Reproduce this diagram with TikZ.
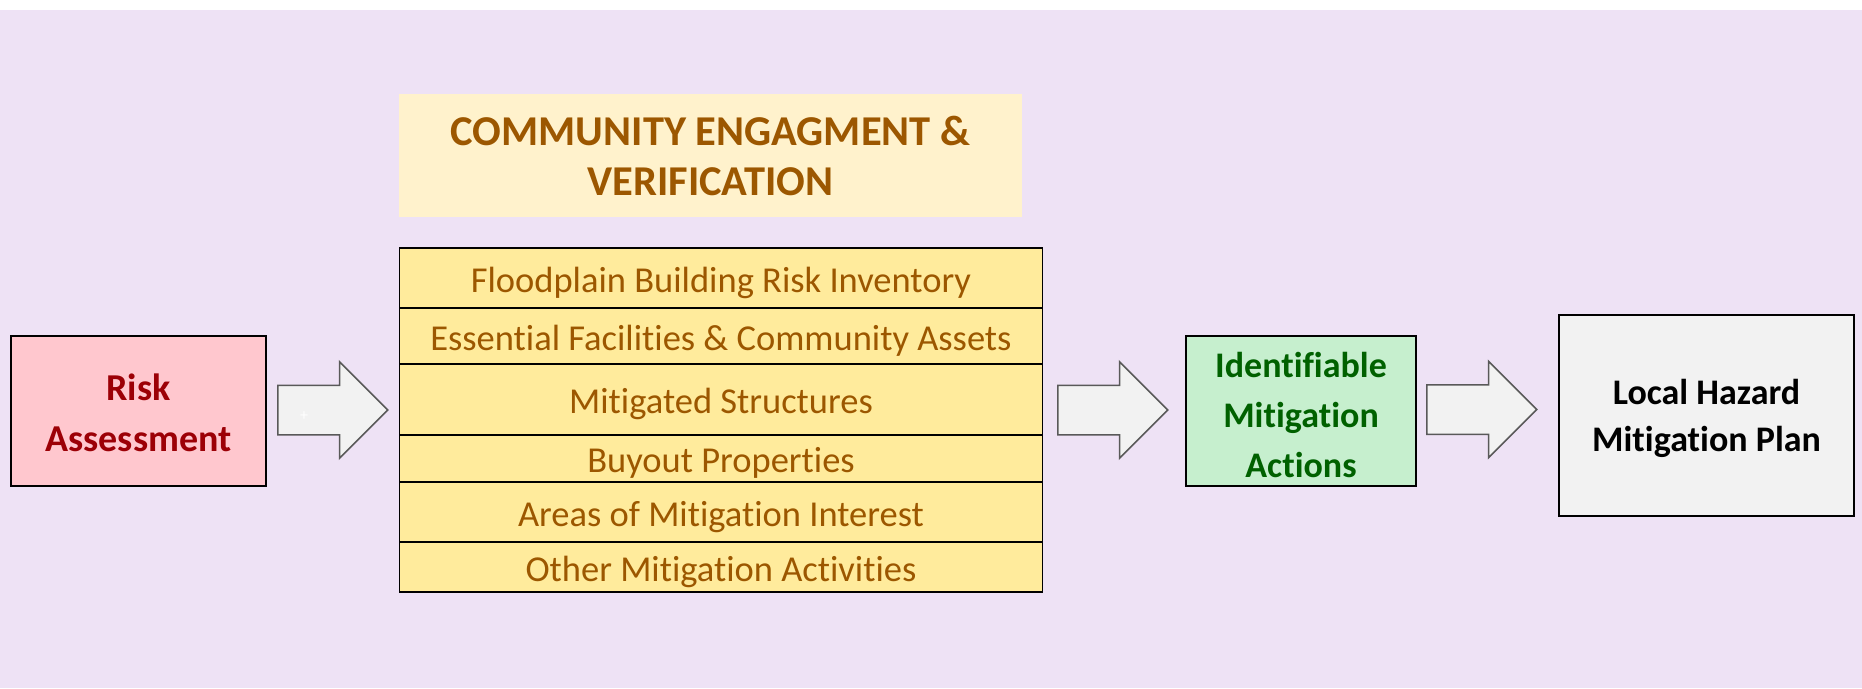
\documentclass[tikz,border=0pt]{standalone}
\usepackage{fontspec}
\setmainfont{Carlito}[Ligatures=NoCommon]
\usetikzlibrary{shapes.arrows}

\definecolor{lavender}{RGB}{238,226,245}
\definecolor{riskfill}{RGB}{255,199,206}
\definecolor{risktext}{RGB}{156,0,6}
\definecolor{goodfill}{RGB}{198,239,206}
\definecolor{goodtext}{RGB}{0,97,0}
\definecolor{neutralfill}{RGB}{255,235,156}
\definecolor{neutraltext}{RGB}{156,87,0}
\definecolor{headfill}{RGB}{255,242,204}
\definecolor{plainfill}{RGB}{242,242,242}
\definecolor{arrowedge}{RGB}{89,89,89}

\begin{document}
\begin{tikzpicture}[x=1pt,y=-1pt,
  box/.style={draw=black, line width=1.6pt, inner sep=0pt, align=center,
    font=\bfseries\fontsize{36}{50}\selectfont},
  rowbox/.style={draw=black, line width=1.4pt, fill=neutralfill, text=neutraltext,
    inner sep=0pt, minimum width=643, text height=31pt, text depth=3pt,
    font=\fontsize{36.5}{40}\selectfont},
  headbox/.style={fill=headfill, text=neutraltext, inner sep=0pt, align=center,
    minimum width=623, minimum height=123,
    font=\bfseries\fontsize{42.5}{50}\selectfont},
  blockarrow/.style={single arrow, draw=arrowedge, line width=1.5pt, fill=plainfill,
    inner sep=0pt, text height=24pt, text depth=24pt, text width=0pt,
    single arrow head extend=23.5pt, minimum height=110, minimum width=95, anchor=tail}
]
% page background
\fill[white] (0,0) rectangle (1862,688);
\fill[lavender] (0,10) rectangle (1862,688);
\useasboundingbox (0,0) rectangle (1862,688);

% starting box
\node[box, line width=2.4pt, fill=riskfill, text=risktext, minimum width=255, minimum height=150,
  font=\bfseries\fontsize{38}{51}\selectfont] (risk) at (138.5,411) {\rule{0pt}{31pt}Risk\\Assessment};

% heading above the list
\node[headbox] (head) at (710.5,155.5) {COMMUNITY ENGAGMENT \&\\VERIFICATION};

% list of data sources
\node[rowbox, minimum height=60] (r1) at (721,278) {Floodplain Building Risk Inventory};
\node[rowbox, minimum height=56] (r2) at (721,336) {Essential Facilities \& Community Assets};
\node[rowbox, minimum height=71] (r3) at (721,399.5) {Mitigated Structures};
\node[rowbox, minimum height=47] (r4) at (721,458.5) {Buyout Properties};
\node[rowbox, minimum height=60] (r5) at (721,512) {Areas of Mitigation Interest};
\node[rowbox, minimum height=50] (r6) at (721,567) {Other Mitigation Activities};

% result boxes
\node[box, fill=goodfill, text=goodtext, minimum width=230, minimum height=150] (actions)
  at (1301,411) {\rule{0pt}{33pt}Identifiable\\Mitigation\\Actions};
\node[box, line width=1.4pt, fill=plainfill, text=black, minimum width=295, minimum height=201,
  font=\bfseries\fontsize{36}{47}\selectfont] (plan) at (1706.5,415.5) {\rule{0pt}{32pt}Local Hazard\\Mitigation Plan};

% block arrows between the stages
\node[blockarrow] (arr1) at (277,410) {};
\node[blockarrow] (arr2) at (1057,410) {};
\node[blockarrow] (arr3) at (1426,409.5) {};
\node[text=white, inner sep=0pt, font=\fontsize{16}{16}\selectfont] (plus) at (304,416) {+};
\end{tikzpicture}
\end{document}
